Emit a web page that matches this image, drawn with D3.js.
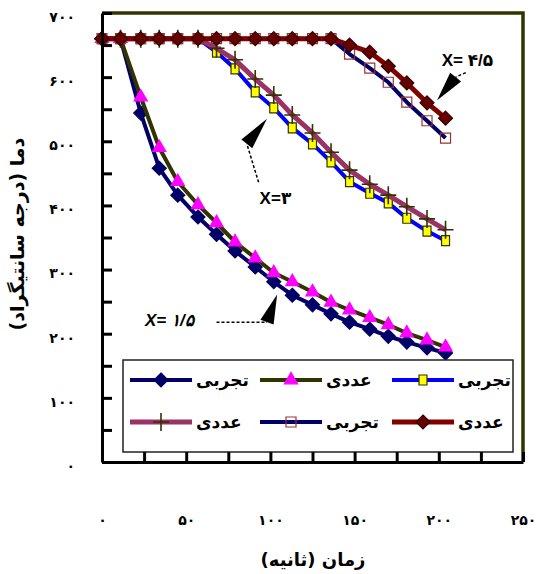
<!DOCTYPE html>
<html>
<head>
<meta charset="utf-8">
<script src="https://cdn.jsdelivr.net/npm/d3@7"></script>
<style>
  body { margin: 0; background: #fff; }
  svg { display: block; }
  text { font-family: "Liberation Sans", "DejaVu Sans", sans-serif; font-weight: bold; }
</style>
</head>
<body>
<svg width="541" height="574"></svg>
<script>
// time (s) shared by every series
const time = [0, 11, 23, 34, 45, 57, 68, 79, 91, 102, 113, 125, 136, 147, 159, 170, 181, 193, 204]

// X = 1/5
const expX15 = [660, 660, 544, 458, 416, 382, 355, 329, 304, 281, 260, 245, 231, 218, 207, 196, 187, 178, 170]
const numX15 = [660, 660, 569, 490, 437, 401, 373, 343, 318, 295, 281, 265, 249, 237, 225, 214, 201, 190, 179]
// X = 3
const expX3 = [660, 660, 660, 660, 660, 660, 639, 613, 577, 552, 521, 496, 468, 437, 419, 404, 380, 360, 345]
const numX3 = [660, 660, 660, 660, 660, 660, 645, 627, 597, 572, 541, 513, 483, 455, 433, 416, 398, 379, 362]
// X = 4/5
const expX45 = [660, 660, 660, 660, 660, 660, 660, 660, 660, 660, 660, 660, 660, 636, 614, 592, 561, 532, 505]
const numX45 = [660, 660, 660, 660, 660, 660, 660, 660, 660, 660, 660, 660, 660, 650, 639, 617, 591, 560, 536]

const xTickValues = [0, 25, 50, 75, 100, 125, 150, 175, 200, 225, 250]
const yTickValues = [0, 50, 100, 150, 200, 250, 300, 350, 400, 450, 500, 550, 600, 650, 700]

const expLabel = 'تجربی'
const numLabel = 'عددی'

const faDigits = '۰۱۲۳۴۵۶۷۸۹'
const toFa = n => String(n).replace(/\d/g, d => faDigits[d])

const svg = d3.select('svg')

const x = d3.scaleLinear().domain([0, 250]).range([102, 523])
const y = d3.scaleLinear().domain([0, 700]).range([462, 13])

// series in drawing order
const series = [
  { values: expX15, stroke: '#000066', width: 4, marker: 'diamond', fill: '#000066', mstroke: '#000066', label: expLabel },
  { values: numX15, stroke: '#333300', width: 4, marker: 'triangle', fill: '#ff00ff', mstroke: '#ff00ff', label: numLabel },
  { values: expX3, stroke: '#0000ff', width: 4, marker: 'square', fill: '#ffff00', mstroke: '#333300', label: expLabel },
  { values: numX3, stroke: '#993366', width: 5, marker: 'plus', fill: 'none', mstroke: '#333300', label: numLabel },
  { values: expX45, stroke: '#000066', width: 4, marker: 'open', fill: 'none', mstroke: '#993333', label: expLabel },
  { values: numX45, stroke: '#800000', width: 5, marker: 'diamond', fill: '#660000', mstroke: '#330000', label: numLabel }
]

const markerPath = type => {
  if (type === 'diamond') return 'M0,-7L7,0L0,7L-7,0Z'
  if (type === 'triangle') return d3.symbol(d3.symbolTriangle, 75)()
  if (type === 'square') return 'M-4,-5H4V5H-4Z'
  if (type === 'open') return 'M-5,-5H5V5H-5Z'
  if (type === 'plus') return 'M-8,0H8M0,-9V9'
}

const drawMarker = (sel, s) => sel.append('path')
  .attr('d', markerPath(s.marker))
  .attr('fill', s.fill)
  .attr('stroke', s.mstroke)
  .attr('stroke-width', s.marker === 'plus' ? 1.6 : 1.2)

// frame (top and right)
svg.append('path')
  .attr('d', `M${x(0)},${y(700)}H${x(250)}V${y(0)}`)
  .attr('fill', 'none')
  .attr('stroke', '#333300')
  .attr('stroke-width', 3.5)

const line = d3.line().x((d, i) => x(time[i])).y(d => y(d))

series.forEach(s => {
  const g = svg.append('g')
  g.append('path')
    .datum(s.values)
    .attr('d', line)
    .attr('fill', 'none')
    .attr('stroke', s.stroke)
    .attr('stroke-width', s.width)
    .attr('stroke-linejoin', 'round')
  g.selectAll('.m')
    .data(s.values)
    .enter()
    .append('g')
    .attr('class', 'm')
    .attr('transform', (d, i) => `translate(${x(time[i])},${y(d)})`)
    .each(function () { drawMarker(d3.select(this), s) })
})

// axes
const xAxis = d3.axisBottom(x)
  .tickValues(xTickValues)
  .tickSizeInner(-10)
  .tickSizeOuter(0)
  .tickPadding(53)
  .tickFormat(d => d % 50 === 0 ? toFa(d) : '')

const yAxis = d3.axisLeft(y)
  .tickValues(yTickValues)
  .tickSizeInner(-10)
  .tickSizeOuter(0)
  .tickPadding(27)
  .tickFormat(d => d % 100 === 0 ? toFa(d) : '')

// legend box (drawn before axes so the bottom ticks show below it)
const legend = svg.append('g')
legend.append('rect')
  .attr('x', 123).attr('y', 360)
  .attr('width', 390).attr('height', 92)
  .attr('fill', '#fff')
  .attr('stroke', '#222')
  .attr('stroke-width', 1.5)

const legendSlots = [
  { s: 0, lx: 130, row: 380 }, { s: 1, lx: 260, row: 380 }, { s: 2, lx: 392, row: 380 },
  { s: 3, lx: 130, row: 422 }, { s: 4, lx: 260, row: 422 }, { s: 5, lx: 392, row: 422 }
]

legendSlots.forEach(slot => {
  const s = series[slot.s]
  const g = legend.append('g').attr('transform', `translate(${slot.lx},${slot.row})`)
  g.append('line')
    .attr('x1', 0).attr('x2', 62)
    .attr('stroke', s.stroke)
    .attr('stroke-width', s.width)
  drawMarker(g.append('g').attr('transform', 'translate(31,0)'), s)
  g.append('text')
    .attr('x', 66)
    .attr('dy', '0.35em')
    .attr('font-size', 17)
    .attr('text-anchor', 'start')
    .text(s.label)
})

const gx = svg.append('g')
  .attr('transform', `translate(0,${y(0)})`)
  .call(xAxis)
const gy = svg.append('g')
  .attr('transform', `translate(${x(0)},0)`)
  .call(yAxis)

;[gx, gy].forEach(g => {
  g.select('.domain').attr('stroke', '#000').attr('stroke-width', 3)
  g.selectAll('.tick line').attr('stroke', '#000').attr('stroke-width', 3)
  g.selectAll('.tick text')
    .attr('font-size', 14)
    .attr('font-family', '"DejaVu Sans", sans-serif')
    .attr('font-weight', 'bold')
    .attr('fill', '#000')
})
gy.selectAll('.tick text').attr('dy', '0.6em')

// axis titles
svg.append('text')
  .attr('x', 313).attr('y', 560)
  .attr('text-anchor', 'middle')
  .attr('dy', '0.35em')
  .attr('font-size', 18)
  .style('direction', 'rtl')
  .style('font-family', '"DejaVu Sans", sans-serif')
  .text('زمان (ثانیه)')

svg.append('text')
  .attr('transform', 'translate(17,234) rotate(-90)')
  .attr('text-anchor', 'middle')
  .attr('dy', '0.35em')
  .attr('font-size', 19)
  .style('direction', 'rtl')
  .style('font-family', '"DejaVu Sans", sans-serif')
  .text('دما (درجه سانتیگراد)')

// annotations, positions in data units
const notes = [
  { text: 'X= ' + toFa(4) + '/' + toFa(5), at: [217, 627], italic: false,
    shaft: [[216, 607], [210, 600]], head: [[210, 600], [199, 564]] },
  { text: 'X=' + toFa(3), at: [103, 412], italic: false,
    shaft: [[93, 436], [86, 496]], head: [[86, 496], [98, 535]] },
  { text: 'X= ' + toFa(1) + '/' + toFa(5), at: [40, 221], italic: true,
    shaft: [[68, 218], [98, 218]], head: [[98, 218], [104, 261]] }
]

notes.forEach(n => {
  svg.append('text')
    .attr('x', x(n.at[0])).attr('y', y(n.at[1]))
    .attr('text-anchor', 'middle')
    .attr('dy', '0.35em')
    .attr('font-size', 17)
    .style('font-style', n.italic ? 'italic' : 'normal')
    .text(n.text)
  svg.append('path')
    .attr('d', d3.line()(n.shaft.map(p => [x(p[0]), y(p[1])])))
    .attr('fill', 'none')
    .attr('stroke', '#000')
    .attr('stroke-width', 1.5)
    .attr('stroke-dasharray', '3,2')
  const [b, t] = n.head.map(p => [x(p[0]), y(p[1])])
  const dx = t[0] - b[0], dy = t[1] - b[1]
  const len = Math.hypot(dx, dy)
  const px = -dy / len * 7, py = dx / len * 7
  svg.append('path')
    .attr('d', `M${b[0] + px},${b[1] + py}L${t[0]},${t[1]}L${b[0] - px},${b[1] - py}Z`)
    .attr('fill', '#000')
})
</script>
</body>
</html>
